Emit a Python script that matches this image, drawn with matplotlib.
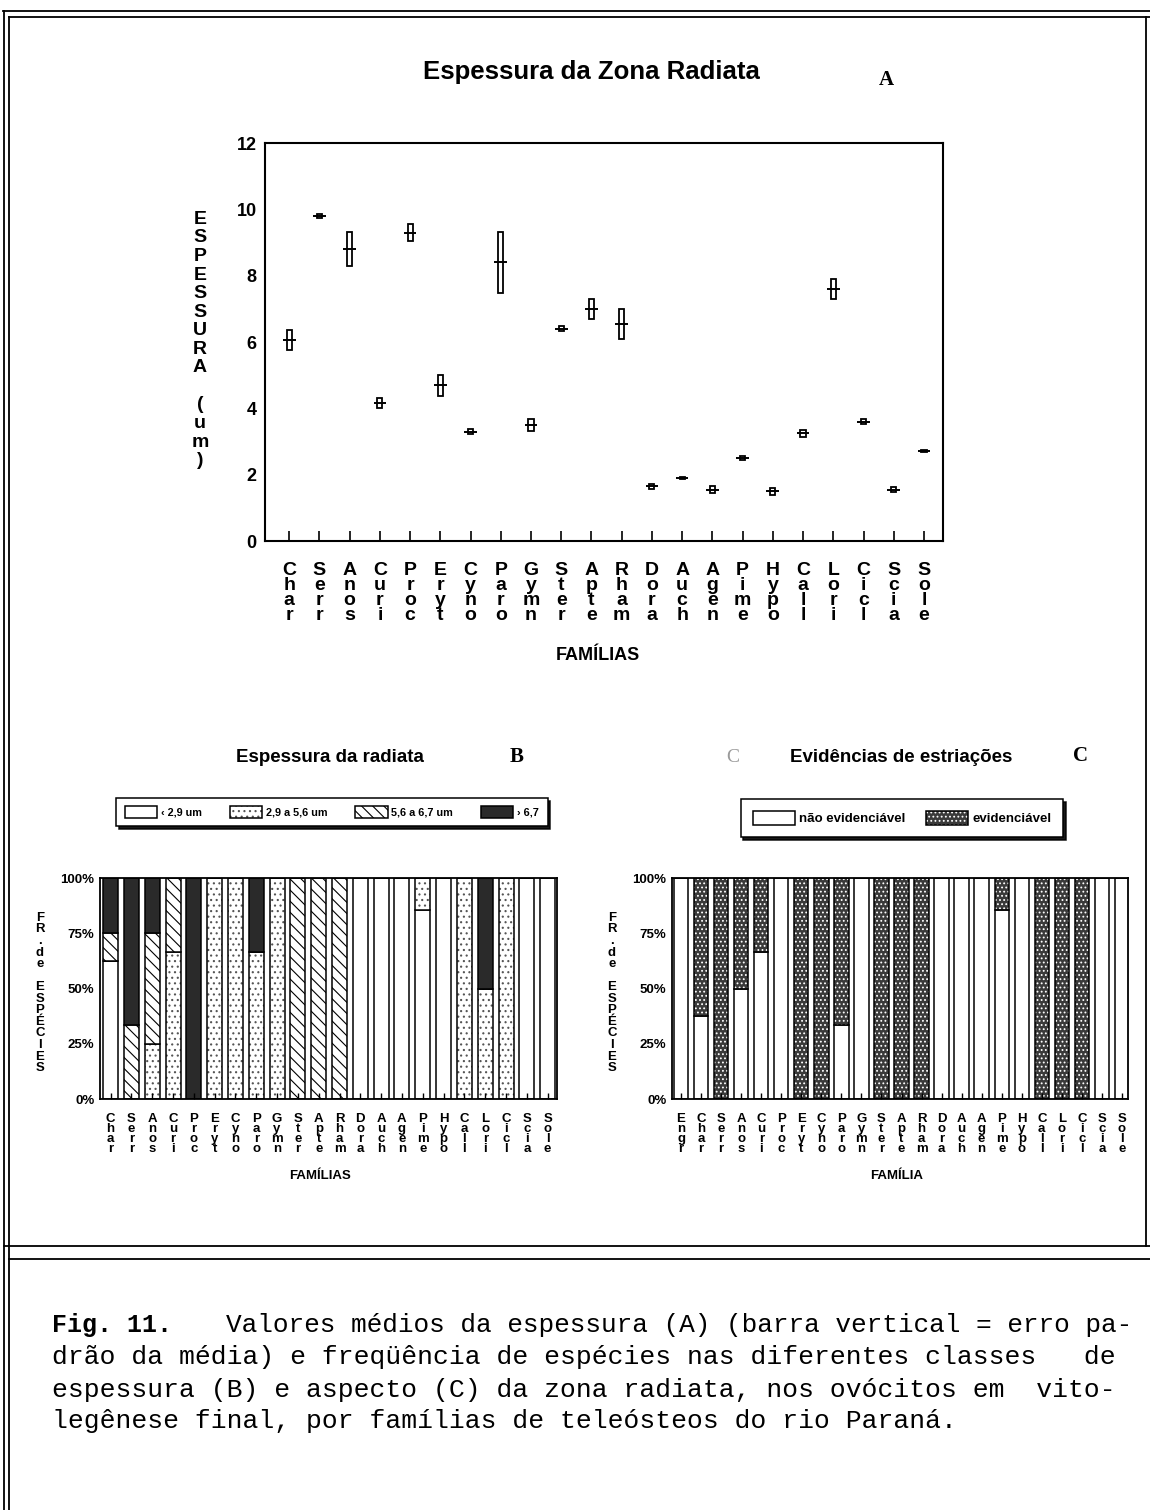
import matplotlib
matplotlib.use("Agg")
import matplotlib.pyplot as plt
from matplotlib.patches import Patch
from matplotlib.lines import Line2D
import numpy as np

plt.rcParams['font.family'] = ['Liberation Sans', 'DejaVu Sans']
plt.rcParams['hatch.linewidth'] = 0.8

# ---------------- data ----------------
fam_A = ["Char", "Serr", "Anos", "Curi", "Proc", "Eryt", "Cyno", "Paro", "Gymn", "Ster", "Apte",
         "Rham", "Dora", "Auch", "Agen", "Pime", "Hypo", "Call", "Lori", "Cicl", "Scia", "Sole"]
mean_A = [6.05, 9.8, 8.8, 4.15, 9.3, 4.7, 3.3, 8.4, 3.5, 6.4, 7.0,
          6.55, 1.65, 1.9, 1.55, 2.5, 1.5, 3.25, 7.6, 3.6, 1.55, 2.7]
se_A = [0.30, 0.05, 0.52, 0.15, 0.25, 0.32, 0.08, 0.92, 0.18, 0.08, 0.30,
        0.45, 0.08, 0.04, 0.10, 0.07, 0.10, 0.10, 0.30, 0.08, 0.07, 0.03]
yticks_A = [0, 2, 4, 6, 8, 10, 12]

fam_B = fam_A
classes_B = ["\u2039 2,9 um", "2,9 a 5,6 um", "5,6 a 6,7 um", "\u203a 6,7"]
lt29 = [62.5, 0, 0, 0, 0, 0, 0, 0, 0, 0, 0, 0, 100, 100, 100, 85.7, 100, 0, 0, 0, 100, 100]
c29_56 = [0, 0, 25, 66.7, 0, 100, 100, 66.7, 100, 0, 0, 0, 0, 0, 0, 14.3, 0, 100, 50, 100, 0, 0]
c56_67 = [12.5, 33.3, 50, 33.3, 0, 0, 0, 0, 0, 100, 100, 100, 0, 0, 0, 0, 0, 0, 0, 0, 0, 0]
gt67 = [25, 66.7, 25, 0, 100, 0, 0, 33.3, 0, 0, 0, 0, 0, 0, 0, 0, 0, 0, 50, 0, 0, 0]

fam_C = ["Engr"] + fam_A
classes_C = ["não evidenciável", "evidenciável"]
nao_evid = [100, 37.5, 0, 50, 66.7, 100, 0, 0, 33.3, 100, 0, 0, 0, 100, 100, 100, 85.7, 100, 0, 0, 0, 100, 100]
evid = [0, 62.5, 100, 50, 33.3, 0, 100, 100, 66.7, 0, 100, 100, 100, 0, 0, 0, 14.3, 0, 100, 100, 100, 0, 0]
pct_ticks = [0, 25, 50, 75, 100]

# ---------------- layout helpers ----------------
W, H = 1150, 1510
fig = plt.figure(figsize=(11.5, 15.1), dpi=100)
fig.patch.set_facecolor('white')


def fx(px):
    return px / W


def fy(py):
    return 1 - py / H


def stack_label(s):
    return "\n".join(s)


# ---------------- frame lines ----------------
def fline(x0, y0, x1, y1, lw=1.3):
    fig.add_artist(Line2D([fx(x0), fx(x1)], [fy(y0), fy(y1)], color='black', lw=lw,
                          transform=fig.transFigure))


fline(3, 11, 1150, 11)
fline(9, 17, 1150, 17)
fline(4, 11, 4, 1510)
fline(9, 17, 9, 1510)
fline(1146, 17, 1146, 1246)
fline(4, 1246, 1150, 1246)
fline(9, 1259, 1150, 1259)

# ---------------- Panel A ----------------
axA = fig.add_axes([fx(265), fy(541), fx(943 - 265), (541 - 143) / H])
xA = np.arange(1, len(fam_A) + 1)
mA = np.array(mean_A)
sA = np.array(se_A)
axA.bar(xA, 2 * sA, bottom=mA - sA, width=0.17, fill=False, edgecolor='black', linewidth=1.3)
axA.hlines(mA, xA - 0.21, xA + 0.21, color='black', linewidth=1.4)
axA.set_xlim(0.2, 22.63)
axA.set_ylim(0, 12)
axA.set_yticks(yticks_A)
axA.set_yticklabels([str(v) for v in yticks_A], fontsize=13, fontweight='bold')
axA.set_xticks(xA)
axA.set_xticklabels([stack_label(f) for f in fam_A], fontsize=14, fontweight='bold',
                    linespacing=0.84, va='top')
axA.tick_params(axis='x', direction='in', length=7, width=1.2, pad=15)
axA.tick_params(axis='y', length=0, pad=6)
for sp in axA.spines.values():
    sp.set_linewidth(1.5)

fig.text(fx(591), fy(72), "Espessura da Zona Radiata", ha='center', va='center',
         fontsize=18.5, fontweight='bold')
fig.text(fx(886), fy(80), "A", ha='center', va='center', fontsize=15, fontweight='bold',
         family=['Liberation Serif', 'DejaVu Serif'])
fig.text(fx(200), fy(340), stack_label("ESPESSURA") + "\n \n" + stack_label("(um)"),
         ha='center', va='center', fontsize=14, fontweight='bold', linespacing=1.12)
fig.text(fx(598), fy(655), "FAMÍLIAS", ha='center', va='center', fontsize=13, fontweight='bold')

# ---------------- stacked bar helper ----------------
styles_B = [dict(fc='white', hc='black', hatch=None),
            dict(fc='white', hc='#555555', hatch='...'),
            dict(fc='white', hc='black', hatch='\\\\\\'),
            dict(fc='#2a2a2a', hc='#2a2a2a', hatch=None)]
styles_C = [dict(fc='white', hc='black', hatch=None),
            dict(fc='#3a3a3a', hc='white', hatch='....')]


def stacked(ax, x, series, styles, width=0.72):
    bottom = np.zeros(len(x))
    for vals, st in zip(series, styles):
        vals = np.asarray(vals, float)
        ax.bar(x, vals, bottom=bottom, width=width, color=st['fc'], edgecolor=st['hc'],
               hatch=st['hatch'], linewidth=0)
        ax.bar(x, vals, bottom=bottom, width=width, fill=False, edgecolor='black', linewidth=1.1)
        bottom += vals


def handles(styles):
    hs = []
    for st in styles:
        hs.append((Patch(facecolor=st['fc'], edgecolor=st['hc'], hatch=st['hatch'], linewidth=0),
                   Patch(fill=False, edgecolor='black', linewidth=1.1)))
    return hs


def style_pct_axis(ax, x, labels):
    ax.set_ylim(0, 100)
    ax.set_yticks(pct_ticks)
    ax.set_yticklabels([f"{v}%" for v in pct_ticks], fontsize=9.5, fontweight='bold')
    ax.set_xticks(x)
    ax.set_xticklabels([stack_label(f) for f in labels], fontsize=9.5, fontweight='bold',
                       linespacing=0.8, va='top')
    ax.tick_params(axis='x', direction='in', length=4, width=1.0, pad=10)
    ax.tick_params(axis='y', length=0, pad=4)
    for sp in ax.spines.values():
        sp.set_linewidth(1.3)


# ---------------- Panel B ----------------
axB = fig.add_axes([fx(100), fy(1099), fx(557 - 100), (1099 - 878) / H])
xB = np.arange(1, len(fam_B) + 1)
stacked(axB, xB, [lt29, c29_56, c56_67, gt67], styles_B)
axB.set_xlim(0.49, 22.45)
style_pct_axis(axB, xB, fam_B)

fig.text(fx(330), fy(757), "Espessura da radiata", ha='center', va='center', fontsize=13.5,
         fontweight='bold')
fig.text(fx(517), fy(757), "B", ha='center', va='center', fontsize=15, fontweight='bold',
         family=['Liberation Serif', 'DejaVu Serif'])
fig.text(fx(40), fy(993), stack_label("FR.de") + "\n \n" + stack_label("ESPÉCIES"),
         ha='center', va='center', fontsize=9.5, fontweight='bold', linespacing=0.95)
fig.text(fx(320), fy(1176), "FAMÍLIAS", ha='center', va='center', fontsize=9.5, fontweight='bold')
legB = fig.legend(handles(styles_B), classes_B, loc='center', bbox_to_anchor=(fx(332), fy(812)),
                  ncol=4, frameon=True, shadow={'color': 'black', 'alpha': 0.9}, fancybox=False,
                  edgecolor='black', framealpha=1, prop={'size': 7.8, 'weight': 'bold'},
                  handlelength=3.0, handleheight=1.2, columnspacing=2.55, handletextpad=0.35,
                  borderpad=0.8)
legB.get_frame().set_linewidth(1.1)

# ---------------- Panel C ----------------
axC = fig.add_axes([fx(672), fy(1099), fx(1128 - 672), (1099 - 878) / H])
xC = np.arange(1, len(fam_C) + 1)
stacked(axC, xC, [nao_evid, evid], styles_C)
axC.set_xlim(0.55, 23.3)
style_pct_axis(axC, xC, fam_C)

fig.text(fx(733), fy(757), "C", ha='center', va='center', fontsize=14, color='#9a9a9a',
         family=['Liberation Serif', 'DejaVu Serif'])
fig.text(fx(901), fy(758), "Evidências de estriações", ha='center', va='center', fontsize=13.5,
         fontweight='bold')
fig.text(fx(1081), fy(756), "C", ha='center', va='center', fontsize=15, fontweight='bold',
         family=['Liberation Serif', 'DejaVu Serif'])
fig.text(fx(612), fy(993), stack_label("FR.de") + "\n \n" + stack_label("ESPÉCIES"),
         ha='center', va='center', fontsize=9.5, fontweight='bold', linespacing=0.95)
fig.text(fx(897), fy(1176), "FAMÍLIA", ha='center', va='center', fontsize=9.5, fontweight='bold')
legC = fig.legend(handles(styles_C), classes_C, loc='center', bbox_to_anchor=(fx(902), fy(818)),
                  ncol=2, frameon=True, shadow={'color': 'black', 'alpha': 0.9}, fancybox=False,
                  edgecolor='black', framealpha=1, prop={'size': 9.5, 'weight': 'bold'},
                  handlelength=3.2, handleheight=1.3, columnspacing=1.6, handletextpad=0.3,
                  borderpad=0.9)
legC.get_frame().set_linewidth(1.1)

# ---------------- caption ----------------
mono = ['Liberation Mono', 'DejaVu Sans Mono']
cap_fs = 19
fig.text(fx(52), fy(1325), "Fig. 11.", ha='left', va='center', fontsize=18, fontweight='bold',
         family=mono)
fig.text(fx(1132), fy(1325), "Valores médios da espessura (A) (barra vertical = erro pa-",
         ha='right', va='center', fontsize=18.8, family=mono)
fig.text(fx(52), fy(1357), "drão da média) e freqüência de espécies nas diferentes classes   de",
         ha='left', va='center', fontsize=cap_fs, family=mono)
fig.text(fx(52), fy(1390), "espessura (B) e aspecto (C) da zona radiata, nos ovócitos em  vito-",
         ha='left', va='center', fontsize=cap_fs, family=mono)
fig.text(fx(52), fy(1421), "legênese final, por famílias de teleósteos do rio Paraná.",
         ha='left', va='center', fontsize=cap_fs, family=mono)

fig.savefig("out.png", dpi=100, facecolor='white')
